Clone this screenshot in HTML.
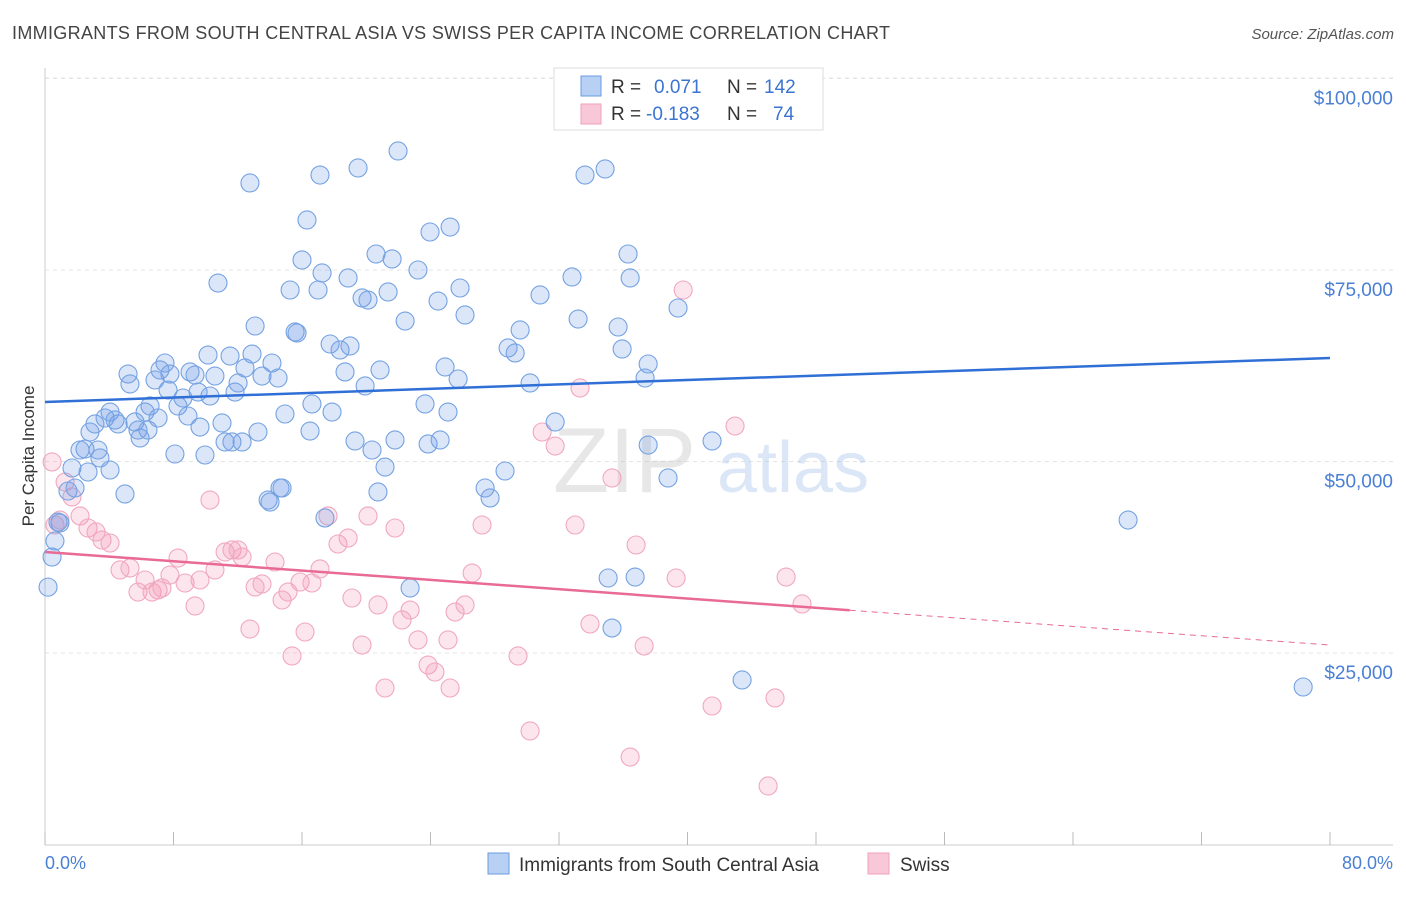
<!DOCTYPE html>
<html><head><meta charset="utf-8"><style>
body{margin:0;background:#fff;font-family:"Liberation Sans",sans-serif}
svg text{font-family:"Liberation Sans",sans-serif}
</style></head><body>
<svg id="chart" width="1406" height="892" viewBox="0 0 1406 892" xmlns="http://www.w3.org/2000/svg">
<text x="12" y="39" font-size="18" fill="#444" textLength="878">IMMIGRANTS FROM SOUTH CENTRAL ASIA VS SWISS PER CAPITA INCOME CORRELATION CHART</text>
<text x="1394" y="39" font-size="15" fill="#555" text-anchor="end" font-style="italic">Source: ZipAtlas.com</text>
<g id="grid"></g>
<g opacity="0.35">
<text x="553" y="492" font-size="92" font-family="Liberation Serif" fill="#bbb">ZIP</text>
<text x="717" y="492" font-size="72" fill="#9bbbe8">atlas</text>
</g>
<g id="pts"></g>
<g id="trends"></g>
<text transform="translate(34,456) rotate(-90)" font-size="17" fill="#333" text-anchor="middle">Per Capita Income</text>
<text x="45" y="869" font-size="18" fill="#4a7fd4">0.0%</text>
<text x="1393" y="869" font-size="18" fill="#4a7fd4" text-anchor="end">80.0%</text>
<g>
<rect x="554" y="68" width="269" height="62" fill="#fff" stroke="#ddd"/>
<rect x="581" y="76" width="20" height="20" fill="#b8d0f4" stroke="#6a9be0"/>
<rect x="581" y="104" width="20" height="20" fill="#f9c8d8" stroke="#f0a0bb"/>
<text x="611" y="93" font-size="19" fill="#333">R =</text>
<text x="654" y="93" font-size="19" fill="#3b74d1">0.071</text>
<text x="727" y="93" font-size="19" fill="#333">N =</text>
<text x="764" y="93" font-size="19" fill="#3b74d1">142</text>
<text x="611" y="120" font-size="19" fill="#333">R =</text>
<text x="646" y="120" font-size="19" fill="#3b74d1">-0.183</text>
<text x="727" y="120" font-size="19" fill="#333">N =</text>
<text x="773" y="120" font-size="19" fill="#3b74d1">74</text>
</g>
<g>
<rect x="488" y="853" width="21" height="21" fill="#b8d0f4" stroke="#6a9be0"/>
<text x="519" y="871" font-size="19" fill="#333">Immigrants from South Central Asia</text>
<rect x="868" y="853" width="21" height="21" fill="#f9c8d8" stroke="#f0a0bb"/>
<text x="900" y="871" font-size="19" fill="#333">Swiss</text>
</g>
</svg>
<script>
const blueX=[0.19,0.44,0.62,0.93,0.81,1.43,1.68,1.87,2.18,2.49,2.68,2.80,3.11,3.30,3.42,3.74,4.05,4.05,4.36,4.55,4.98,5.17,5.29,5.60,5.79,5.92,6.23,6.41,6.54,6.85,7.04,7.16,7.47,7.66,7.78,8.09,8.28,8.59,8.90,9.03,9.34,9.53,9.65,9.96,10.15,10.27,10.58,10.77,11.02,11.21,11.52,11.64,11.83,12.02,12.27,12.45,12.76,12.89,13.08,13.26,13.51,13.89,14.01,14.13,14.51,14.63,14.76,14.94,15.26,15.57,15.69,16.00,16.31,16.50,16.62,17.00,17.12,17.25,17.43,17.75,17.87,18.37,18.68,18.87,18.99,19.30,19.49,19.74,19.93,20.11,20.36,20.61,20.73,20.86,21.17,21.36,21.61,21.79,21.98,22.42,22.73,23.22,23.66,23.85,23.97,24.47,24.60,24.91,25.09,25.22,25.72,25.84,26.15,27.40,27.71,28.64,28.83,29.27,29.58,30.20,30.82,31.76,32.81,33.19,33.62,34.87,35.06,35.30,35.68,35.93,36.30,36.43,36.74,37.36,37.55,37.55,38.79,39.41,41.53,43.40,67.43,78.33];
const blueY=[33600,37530,39620,41970,42100,46150,49150,46540,51500,51630,48630,53850,54900,51500,50460,55680,48890,56460,55420,54900,45760,61420,60120,55160,54110,53070,56460,54110,57250,60640,55680,61950,62860,59330,61420,50980,57250,58290,55940,61690,61290,59070,54500,50850,63900,58550,61160,73300,55030,52550,63770,52550,59070,60250,52550,62210,86360,64030,67690,53850,61160,44970,44710,62860,60900,46540,46540,56200,72390,66910,66780,76310,81530,53980,57510,72390,87400,74610,42630,65340,56460,64560,61690,73960,65080,52680,88320,71350,59860,71080,51500,77090,46020,61950,49280,72130,76440,52810,90540,68340,33490,75000,57510,52290,79960,70950,52810,62340,56460,80610,60770,72650,69130,46540,45240,48760,64820,64170,67170,60250,71740,55160,74090,68600,87400,88190,34790,28260,67560,64690,77090,73960,34920,60900,62730,52150,47850,70040,52680,21480,42360,20560];
const pinkX=[0.44,0.62,0.93,1.25,1.68,2.18,2.68,3.18,3.55,4.05,4.67,5.29,5.79,6.23,6.66,7.04,7.28,7.78,8.28,8.72,9.34,9.65,10.27,10.58,11.21,11.64,12.02,12.27,12.76,13.08,13.51,14.32,14.76,15.13,15.38,15.88,16.19,16.62,17.12,17.62,18.24,18.87,19.11,19.74,20.11,20.73,21.17,21.79,22.23,22.73,23.22,23.85,24.28,25.09,25.22,25.53,26.15,26.59,27.21,29.45,30.20,30.95,31.76,33.00,33.31,33.93,35.30,36.80,37.30,36.43,39.29,39.73,41.53,42.96,45.02,45.45,46.14,47.13];
const pinkY=[49940,41710,42360,47320,45370,42890,41320,40800,39750,39360,35840,36100,32960,34530,32960,33230,33490,35180,37400,34140,31140,34530,44970,35840,38190,38450,38450,37530,28130,33620,34010,36880,31920,32960,24610,34270,27740,34140,35970,42890,39230,40010,32180,26040,42890,31270,20430,41320,29310,30610,26700,23430,22520,26700,20430,30350,31270,35440,41710,24610,14820,53850,52020,41710,59600,28790,47850,39100,25910,11420,34790,72390,18080,54630,7640,19130,34920,31400];
const yTicks=[25000,50000,75000,100000];
const yTickLabels=["$25,000","$50,000","$75,000","$100,000"];
const blueTrend=[57770,63510];
const pinkTrend=[38190,26040];
const pinkSolidEnd=50.1;

const NS="http://www.w3.org/2000/svg";
const X0=45,X1=1330,Y0=844.5,PXPER=191.5/25000;
const sx=v=>X0+(v/80)*(X1-X0);
const sy=v=>Y0-v*PXPER;
function mk(tag,attrs,parent){const e=document.createElementNS(NS,tag);for(const k in attrs)e.setAttribute(k,attrs[k]);parent.appendChild(e);return e;}
const grid=document.getElementById('grid');
yTicks.forEach((t,i)=>{
  const l=mk('line',{x1:45,x2:1393,y1:sy(t),y2:sy(t),stroke:'#e4e4e4','stroke-dasharray':'4,4'},grid);
  
  
  const tx=mk('text',{x:1393,y:sy(t)+26,'font-size':19,fill:'#4a7fd4','text-anchor':'end'},grid);
  tx.textContent=yTickLabels[i];
  
  
});
const topLine=mk('line',{x1:45,x2:1393,y1:78,y2:78,stroke:'#e4e4e4','stroke-dasharray':'4,4'},grid);


const yAxisLine=mk('line',{x1:45,x2:45,y1:68,y2:845,stroke:'#ccc'},grid);


const xAxisLine=mk('line',{x1:45,x2:1393,y1:845,y2:845,stroke:'#ccc'},grid);


for(let i=0;i<=10;i++){
  const t=mk('line',{x1:sx(i*8),x2:sx(i*8),y1:832,y2:845,stroke:'#bbb'},grid);
  
  
}
const pts=document.getElementById('pts');
pinkX.forEach((x,i)=>{
  const c=mk('circle',{cx:sx(x),cy:sy(pinkY[i]),r:9,fill:'rgba(244,150,180,0.25)',stroke:'#f0a8c0','stroke-width':1.1},pts);
  
  
});
blueX.forEach((x,i)=>{
  const c=mk('circle',{cx:sx(x),cy:sy(blueY[i]),r:9,fill:'rgba(110,155,230,0.25)',stroke:'#74a2e2','stroke-width':1.1},pts);
  
  
});
const tr=document.getElementById('trends');
const bl=mk('line',{x1:sx(0),y1:sy(blueTrend[0]),x2:sx(80),y2:sy(blueTrend[1]),stroke:'#2f6fd6','stroke-width':2.5},tr);


const pAt=x=>pinkTrend[0]+(pinkTrend[1]-pinkTrend[0])*x/80;
const pl=mk('line',{x1:sx(0),y1:sy(pinkTrend[0]),x2:sx(pinkSolidEnd),y2:sy(pAt(pinkSolidEnd)),stroke:'#e86a95','stroke-width':2.5},tr);


const pd=mk('line',{x1:sx(pinkSolidEnd),y1:sy(pAt(pinkSolidEnd)),x2:sx(80),y2:sy(pinkTrend[1]),stroke:'#e86a95','stroke-width':1,'stroke-dasharray':'6,5'},tr);


</script>
</body></html>
